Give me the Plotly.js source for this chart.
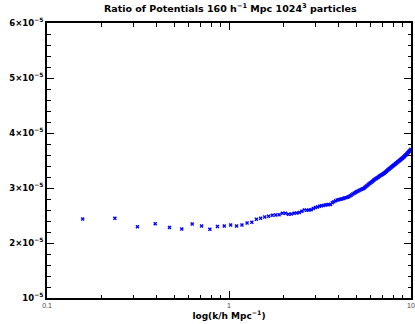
<!DOCTYPE html>
<html><head><meta charset="utf-8">
<script src="https://cdn.plot.ly/plotly-3.0.1.min.js"></script>
<style>html,body{margin:0;padding:0;background:#fff}#c{width:415px;height:324px}</style>
</head><body><div id="c"></div>
<script>
// k in h/Mpc
const kValues = [0.157,0.236,0.314,0.393,0.471,0.550,0.628,0.707,0.785,0.864,0.942,1.021,1.100,1.178,1.257,1.335,1.414,1.492,1.571,1.649,1.728,1.806,1.885,1.963,2.042,2.121,2.199,2.278,2.356,2.435,2.513,2.592,2.670,2.749,2.827,2.906,2.985,3.063,3.142,3.220,3.299,3.377,3.456,3.534,3.613,3.691,3.770,3.848,3.927,4.006,4.084,4.163,4.241,4.320,4.398,4.477,4.555,4.634,4.712,4.791,4.869,4.948,5.027,5.105,5.184,5.262,5.341,5.419,5.498,5.576,5.655,5.733,5.812,5.890,5.969,6.048,6.126,6.205,6.283,6.362,6.440,6.519,6.597,6.676,6.754,6.833,6.912,6.990,7.069,7.147,7.226,7.304,7.383,7.461,7.540,7.618,7.697,7.775,7.854,7.933,8.011,8.090,8.168,8.247,8.325,8.404,8.482,8.561,8.639,8.718,8.796,8.875,8.954,9.032,9.111,9.189,9.268,9.346,9.425,9.503,9.582,9.660,9.739,9.817,9.896,9.975];
// ratio of potentials, in units of 1e-5
const ratioValues = [2.436,2.450,2.296,2.350,2.280,2.255,2.345,2.310,2.250,2.300,2.309,2.327,2.309,2.327,2.364,2.376,2.431,2.449,2.473,2.485,2.504,2.509,2.515,2.540,2.540,2.522,2.527,2.540,2.546,2.555,2.578,2.600,2.596,2.602,2.605,2.628,2.647,2.655,2.668,2.676,2.683,2.690,2.694,2.702,2.700,2.730,2.750,2.766,2.781,2.788,2.795,2.802,2.810,2.817,2.825,2.833,2.841,2.857,2.873,2.890,2.906,2.919,2.931,2.943,2.956,2.966,2.975,2.984,2.993,3.010,3.026,3.043,3.059,3.076,3.091,3.106,3.120,3.135,3.149,3.162,3.174,3.186,3.197,3.210,3.221,3.231,3.242,3.252,3.262,3.274,3.287,3.301,3.314,3.327,3.340,3.352,3.364,3.376,3.387,3.399,3.410,3.422,3.433,3.444,3.455,3.466,3.476,3.487,3.498,3.509,3.520,3.531,3.541,3.552,3.562,3.574,3.586,3.599,3.611,3.623,3.638,3.650,3.662,3.674,3.686,3.705];
const yTickVals = [1,2,3,4,5,6];
const yTickText = ['10<sup>−5</sup>','2×10<sup>−5</sup>','3×10<sup>−5</sup>','4×10<sup>−5</sup>','5×10<sup>−5</sup>','6×10<sup>−5</sup>'];
const yMinorVals = [1.2,1.4,1.6,1.8,2.2,2.4,2.6,2.8,3.2,3.4,3.6,3.8,4.2,4.4,4.6,4.8,5.2,5.4,5.6,5.8];
const xTickVals = [0.1,1,10];
const xTickText = ['0.1','1','10'];
const xMinorVals = [0.2,0.3,0.4,0.5,0.6,0.7,0.8,0.9,2,3,4,5,6,7,8,9];

const FONT = 'DejaVu Sans, Liberation Sans, Arial';
const trace = {
  x: kValues, y: ratioValues, type:'scatter', mode:'markers',
  marker:{symbol:'x-thin-open', size:3, color:'#0000ff', line:{color:'#0000ff', width:1.4}},
  hoverinfo:'none', showlegend:false
};
const layout = {
  width:415, height:324,
  margin:{l:47, r:4, t:23, b:26, pad:0},
  paper_bgcolor:'#fff', plot_bgcolor:'#fff',
  title:{text:'<b>Ratio of Potentials 160 h<sup>−1</sup> Mpc 1024<sup>3</sup> particles</b>',
    font:{family:FONT, size:9.5, color:'#000'}, x:0.555, xanchor:'center', y:0.985, yanchor:'top'},
  xaxis:{type:'log', range:[-1,1], tickmode:'array', tickvals:xTickVals, ticktext:xTickText,
    ticks:'inside', ticklen:7, tickwidth:1, tickcolor:'#000',
    minor:{tickmode:'array', tickvals:xMinorVals, ticks:'inside', ticklen:3.5, tickcolor:'#000', showgrid:false},
    showline:true, linecolor:'#000', linewidth:2, mirror:'allticks', showgrid:false, zeroline:false,
    tickfont:{family:'Liberation Sans, Arial', size:7, color:'#444'},
    title:{text:'<b>log(k/h Mpc<sup>−1</sup>)</b>', font:{family:FONT, size:9, color:'#000'}, standoff:3}},
  yaxis:{range:[1,6], tickmode:'array', tickvals:yTickVals, ticktext:yTickText,
    ticks:'inside', ticklen:7, tickwidth:1, tickcolor:'#000',
    minor:{tickmode:'array', tickvals:yMinorVals, ticks:'inside', ticklen:3.5, tickcolor:'#000', showgrid:false},
    showline:true, linecolor:'#000', linewidth:2, mirror:'allticks', showgrid:false, zeroline:false,
    tickfont:{family:FONT, size:8.5, color:'#000', weight:'bold'}}
};
Plotly.newPlot('c',[trace],layout,{displayModeBar:false, staticPlot:true});
</script></body></html>
